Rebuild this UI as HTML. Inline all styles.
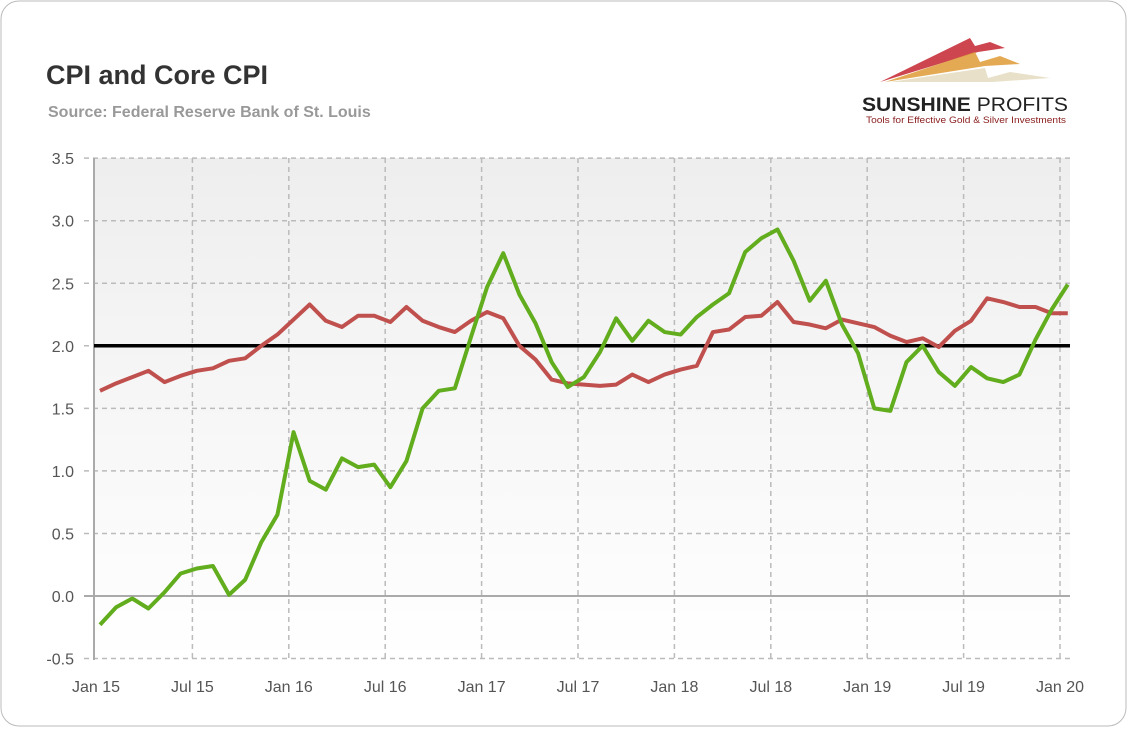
<!DOCTYPE html>
<html><head><meta charset="utf-8"><style>
body{margin:0;background:#fff;font-family:"Liberation Sans",sans-serif}
</style></head><body>
<svg width="1127" height="727" xmlns="http://www.w3.org/2000/svg">
<defs><linearGradient id="bg" x1="0" y1="0" x2="0" y2="1"><stop offset="0" stop-color="#eeeeee"/><stop offset="1" stop-color="#ffffff"/></linearGradient></defs>
<rect x="1" y="1" width="1125" height="725" rx="18" fill="#fff" stroke="#bbb"/>
<text x="46" y="84" font-size="27" font-weight="bold" fill="#333">CPI and Core CPI</text>
<text x="48" y="117" font-size="16" font-weight="bold" fill="#999">Source: Federal Reserve Bank of St. Louis</text>
<g>
<polygon points="880,82 970,38 975,46 990,42 1005,48 978,52" fill="#c8323c" opacity="0.9"/>
<polygon points="885,82 975,52 980,62 1000,56 1020,64 985,66" fill="#e0a040" opacity="0.9"/>
<polygon points="890,82 985,68 988,78 1010,72 1050,78 992,82" fill="#e8e0c8"/>
<text x="862" y="111" font-size="19" font-weight="bold" fill="#222" textLength="206" lengthAdjust="spacingAndGlyphs">SUNSHINE <tspan font-weight="normal">PROFITS</tspan></text>
<text x="866" y="123" font-size="9" fill="#8b2020" textLength="200" lengthAdjust="spacingAndGlyphs">Tools for Effective Gold &amp; Silver Investments</text>
</g>
<rect x="94" y="158" width="976" height="502" fill="url(#bg)"/>
<g id="grid"></g><g id="axes"></g><g id="series"></g>
</svg>
<script>
const yTicks=["-0.5","0.0","0.5","1.0","1.5","2.0","2.5","3.0","3.5"];
const xLabels=["Jan 15","Jul 15","Jan 16","Jul 16","Jan 17","Jul 17","Jan 18","Jul 18","Jan 19","Jul 19","Jan 20"];
const cpi=[-0.23,-0.09,-0.02,-0.10,0.03,0.18,0.22,0.24,0.01,0.13,0.43,0.65,1.31,0.92,0.85,1.10,1.03,1.05,0.87,1.08,1.50,1.64,1.66,2.07,2.47,2.74,2.41,2.18,1.87,1.67,1.75,1.95,2.22,2.04,2.20,2.11,2.09,2.23,2.33,2.42,2.75,2.86,2.93,2.68,2.36,2.52,2.17,1.94,1.50,1.48,1.87,2.00,1.79,1.68,1.83,1.74,1.71,1.77,2.05,2.29,2.49];
const core=[1.64,1.70,1.75,1.80,1.71,1.76,1.80,1.82,1.88,1.90,2.00,2.09,2.21,2.33,2.20,2.15,2.24,2.24,2.19,2.31,2.20,2.15,2.11,2.20,2.27,2.22,2.00,1.89,1.73,1.70,1.69,1.68,1.69,1.77,1.71,1.77,1.81,1.84,2.11,2.13,2.23,2.24,2.35,2.19,2.17,2.14,2.21,2.18,2.15,2.08,2.03,2.06,1.99,2.12,2.20,2.38,2.35,2.31,2.31,2.26,2.26];
const target=2.0;
const NS="http://www.w3.org/2000/svg";
const y=v=>596-v*125.1;
const xl=i=>96+i*96.4;
const xp=i=>100+i*16.13;
function mk(t,a,p){const e=document.createElementNS(NS,t);for(const k in a)e.setAttribute(k,a[k]);document.getElementById(p).appendChild(e);return e;}
yTicks.forEach(t=>{const v=parseFloat(t);
 const solid=(v===0);
 const g=mk('line',{x1:84,x2:1070,y1:y(v),y2:y(v),stroke:solid?'#aaa':'#bbb','stroke-width':solid?2:1.5,'stroke-dasharray':solid?'none':'5,4'},'grid');
 
 
 const tx=mk('text',{x:74,y:y(v)+6,'text-anchor':'end','font-size':16,fill:'#555'},'axes');tx.textContent=t;
 
 
});
xLabels.forEach((t,i)=>{
 if(i>0){const g=mk('line',{x1:xl(i),x2:xl(i),y1:158,y2:660,stroke:'#bbb','stroke-width':1.5,'stroke-dasharray':'5,4'},'grid');
 
 }
 const tx=mk('text',{x:xl(i),y:692,'text-anchor':'middle','font-size':16,fill:'#555'},'axes');tx.textContent=t;
 
 
});
const ya=mk('line',{x1:94,x2:94,y1:158,y2:660,stroke:'#aaa','stroke-width':2},'grid');


const tl=mk('line',{x1:94,x2:1070,y1:y(target),y2:y(target),stroke:'#000','stroke-width':3.5},'series');


function line(d,c,n){const p=mk('polyline',{points:d.map((v,i)=>xp(i)+','+y(v)).join(' '),fill:'none',stroke:c,'stroke-width':4,'stroke-linejoin':'round'},'series');
 
 }
line(core,'#c0504d','core-cpi-line');
line(cpi,'#62ad1e','cpi-line');
</script>
</body></html>
